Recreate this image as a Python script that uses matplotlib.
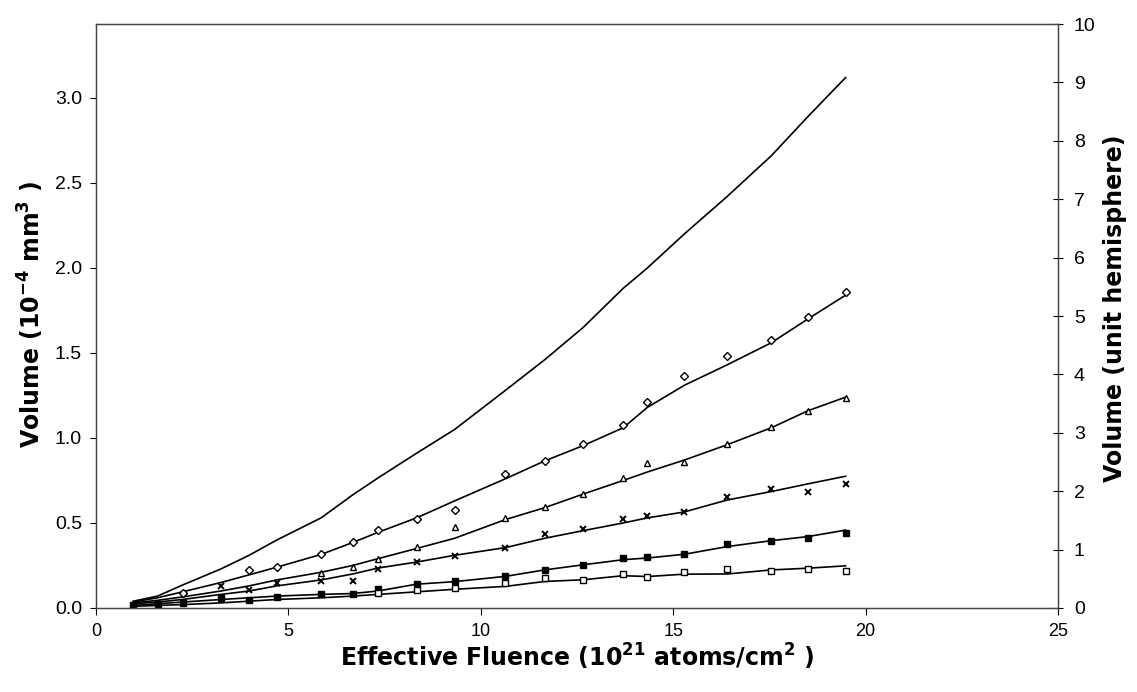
import numpy as np
import matplotlib
matplotlib.use("Agg")
import matplotlib.pyplot as plt

plt.rcParams['font.family'] = ['Liberation Sans', 'DejaVu Sans']
plt.rcParams['mathtext.fontset'] = 'custom'
plt.rcParams['mathtext.rm'] = 'DejaVu Sans'
plt.rcParams['mathtext.bf'] = 'DejaVu Sans:bold'

nan = np.nan
fluence = [0.97, 1.6, 2.25, 3.25, 3.98, 4.7, 5.85, 6.67, 7.33, 8.33, 9.32,
           10.64, 11.66, 12.66, 13.7, 14.33, 15.29, 16.4, 17.55, 18.5, 19.48]

curve_top = [0.04, 0.07, 0.135, 0.23, 0.31, 0.40, 0.53, 0.665, 0.765, 0.91, 1.05,
             1.28, 1.46, 1.65, 1.88, 2.0, 2.2, 2.42, 2.66, 2.89, 3.12]

curve_diamond = [0.035, 0.06, 0.095, 0.15, 0.195, 0.24, 0.315, 0.385, 0.445, 0.53, 0.63,
                 0.76, 0.865, 0.955, 1.06, 1.18, 1.31, 1.43, 1.56, 1.70, 1.84]
pts_diamond = [nan, nan, 0.088, nan, 0.224, 0.244, 0.316, 0.39, 0.46, 0.521, 0.576,
               0.787, 0.865, 0.962, 1.079, 1.21, 1.362, 1.483, 1.577, 1.71, 1.86]

curve_triangle = [0.03, 0.045, 0.065, 0.10, 0.13, 0.165, 0.21, 0.25, 0.29, 0.35, 0.41,
                  0.52, 0.59, 0.67, 0.75, 0.80, 0.87, 0.96, 1.06, 1.16, 1.24]
pts_triangle = [nan, nan, nan, nan, nan, nan, 0.205, 0.244, 0.289, 0.357, 0.474,
                0.531, 0.595, 0.669, 0.765, 0.853, 0.859, 0.966, 1.067, 1.161, 1.235]

curve_x = [0.025, 0.035, 0.05, 0.08, 0.10, 0.13, 0.165, 0.20, 0.235, 0.27, 0.31,
           0.355, 0.41, 0.455, 0.50, 0.53, 0.565, 0.635, 0.685, 0.73, 0.775]
pts_x = [nan, nan, nan, 0.127, 0.107, 0.146, 0.156, 0.156, 0.23, 0.273, 0.308,
         0.355, 0.433, 0.463, 0.523, 0.54, 0.562, 0.65, 0.699, 0.683, 0.728]

curve_filled = [0.015, 0.025, 0.035, 0.05, 0.06, 0.07, 0.08, 0.085, 0.10, 0.14, 0.155,
                0.186, 0.224, 0.254, 0.284, 0.294, 0.316, 0.361, 0.396, 0.42, 0.458]
pts_filled = [0.016, 0.025, 0.03, 0.06, 0.045, 0.064, 0.08, 0.08, 0.111, 0.14, 0.16,
              0.191, 0.224, 0.254, 0.293, 0.297, 0.316, 0.375, 0.396, 0.41, 0.44]

curve_square = [0.01, 0.015, 0.02, 0.03, 0.04, 0.05, 0.06, 0.07, 0.08, 0.095, 0.11,
                0.127, 0.156, 0.166, 0.19, 0.185, 0.199, 0.20, 0.224, 0.234, 0.248]
pts_square = [nan, nan, nan, nan, nan, nan, nan, nan, 0.09, 0.104, 0.12,
              0.146, 0.176, 0.166, 0.199, 0.182, 0.211, 0.228, 0.218, 0.228, 0.218]

x_ticks = [0, 5, 10, 15, 20, 25]
y_ticks = [0.0, 0.5, 1.0, 1.5, 2.0, 2.5, 3.0]
y2_ticks = list(range(0, 11))

fig = plt.figure(figsize=(11.37, 6.92), dpi=100)
ax = fig.add_axes([0.0844, 0.1214, 0.8461, 0.8439])
ax2 = ax.twinx()

lw = 1.2
ax.plot(fluence, curve_top, color='black', lw=lw, zorder=3)
for curve in (curve_diamond, curve_triangle, curve_x, curve_filled, curve_square):
    ax.plot(fluence, curve, color='black', lw=lw, zorder=3)

ax.plot(fluence, pts_diamond, ls='none', marker='D', ms=4.2, mfc='white', mec='black', mew=1.0, zorder=4)
ax.plot(fluence, pts_triangle, ls='none', marker='^', ms=5, mfc='white', mec='black', mew=1.0, zorder=4)
ax.plot(fluence, pts_x, ls='none', marker='x', ms=5, mec='black', mew=1.4, zorder=4)
ax.plot(fluence, pts_filled, ls='none', marker='s', ms=4.5, mfc='black', mec='black', mew=1.0, zorder=4)
ax.plot(fluence, pts_square, ls='none', marker='s', ms=4.5, mfc='white', mec='black', mew=1.0, zorder=4)

ax.set_xlim(0, 25)
ax.set_ylim(0, 3.435)
ax2.set_ylim(0, 10)

ax.set_xticks(x_ticks)
ax.set_xticklabels([str(t) for t in x_ticks], family=['Liberation Sans Narrow', 'Liberation Sans'], fontsize=13)
ax.set_yticks(y_ticks)
ax.set_yticklabels(['%.1f' % t for t in y_ticks], fontsize=14)
ax2.set_yticks(y2_ticks)
ax2.set_yticklabels([str(t) for t in y2_ticks], fontsize=14)

ax.tick_params(axis='x', direction='out', length=5, width=0.8, pad=6)
ax.tick_params(axis='y', direction='out', length=4, width=0.8, pad=6)
ax2.tick_params(axis='y', direction='inout', length=7, width=0.8, pad=8)

for a in (ax, ax2):
    for s in a.spines.values():
        s.set_linewidth(0.9)
        s.set_color('#444444')

label_font = dict(family='DejaVu Sans', fontsize=17, fontweight='bold')
fig.text(0.508, 0.036, r'Effective Fluence (10$^{\mathbf{21}}$ atoms/cm$^{\mathbf{2}}$ )',
         ha='center', va='baseline', **label_font)
fig.text(0.027, 0.545, r'Volume (10$^{\mathbf{-4}}$ mm$^{\mathbf{3}}$ )',
         ha='center', va='center', rotation=90, **label_font)
fig.text(0.981, 0.555, 'Volume (unit hemisphere)',
         ha='center', va='center', rotation=90, **label_font)

fig.savefig('out.png', dpi=100, facecolor='white')
